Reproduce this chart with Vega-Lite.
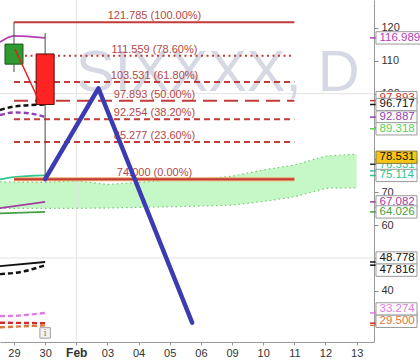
{
  "$schema": "https://vega.github.io/schema/vega-lite/v6.json",
  "width": 374,
  "height": 342,
  "autosize": {"type": "none"},
  "padding": {"left": 0, "top": 0, "right": 46, "bottom": 22},
  "background": "#ffffff",
  "config": {"view": {"stroke": null}, "font": "Liberation Sans"},
  "resolve": {"axis": {"x": "independent", "y": "independent"}},
  "datasets": {
    "grid": [{"g": 100}, {"g": 50}],
    "cloud": [
      {"i": -0.45, "top": 73.2, "bottom": 65.1},
      {"i": 1, "top": 73.0, "bottom": 65.1},
      {"i": 2, "top": 73.5, "bottom": 65.1},
      {"i": 3, "top": 72.4, "bottom": 65.2},
      {"i": 4, "top": 73.0, "bottom": 65.4},
      {"i": 5, "top": 73.7, "bottom": 65.6},
      {"i": 6, "top": 74.0, "bottom": 65.8},
      {"i": 7, "top": 74.9, "bottom": 66.1},
      {"i": 8, "top": 76.8, "bottom": 67.2},
      {"i": 9, "top": 78.3, "bottom": 68.6},
      {"i": 10, "top": 81.0, "bottom": 71.2},
      {"i": 11, "top": 81.6, "bottom": 71.35}
    ],
    "lines": [
      {"series": "upper", "i": -0.45, "v": 115.7},
      {"series": "upper", "i": 0, "v": 117.6},
      {"series": "upper", "i": 1, "v": 116.989},
      {"series": "close", "i": -0.45, "v": 95.0},
      {"series": "close", "i": 0, "v": 96.1},
      {"series": "close", "i": 1, "v": 96.717},
      {"series": "ema", "i": -0.45, "v": 93.5},
      {"series": "ema", "i": 0.03, "v": 94.3},
      {"series": "ema", "i": 0.51, "v": 94.0},
      {"series": "ema", "i": 1, "v": 92.887},
      {"series": "base", "i": -0.45, "v": 73.9},
      {"series": "base", "i": 0, "v": 74.6},
      {"series": "base", "i": 1, "v": 75.114},
      {"series": "lower", "i": -0.45, "v": 65.2},
      {"series": "lower", "i": 1, "v": 67.082},
      {"series": "sma50", "i": -0.45, "v": 63.6},
      {"series": "sma50", "i": 1, "v": 64.026},
      {"series": "sma100", "i": -0.45, "v": 47.5},
      {"series": "sma100", "i": 1, "v": 48.778},
      {"series": "sma100d", "i": -0.45, "v": 45.1},
      {"series": "sma100d", "i": 0.25, "v": 45.8},
      {"series": "sma100d", "i": 1, "v": 47.816},
      {"series": "pink", "i": -0.45, "v": 32.3},
      {"series": "pink", "i": 0, "v": 32.4},
      {"series": "pink", "i": 1, "v": 33.274},
      {"series": "red", "i": -0.45, "v": 30.3},
      {"series": "red", "i": 1, "v": 30.162},
      {"series": "orange", "i": -0.45, "v": 28.9},
      {"series": "orange", "i": 1, "v": 29.5}
    ],
    "fib": [
      {"level": 121.785, "pct": "100.00%", "label": "121.785 (100.00%)"},
      {"level": 111.559, "pct": "78.60%", "label": "111.559 (78.60%)"},
      {"level": 103.531, "pct": "61.80%", "label": "103.531 (61.80%)"},
      {"level": 97.893, "pct": "50.00%", "label": "97.893 (50.00%)"},
      {"level": 92.254, "pct": "38.20%", "label": "92.254 (38.20%)"},
      {"level": 85.277, "pct": "23.60%", "label": "85.277 (23.60%)"},
      {"level": 74.0, "pct": "0.00%", "label": "74.000 (0.00%)"}
    ],
    "candles": [
      {"i": 0, "open": 109.0, "high": 121.785, "low": 106.6, "close": 115.1},
      {"i": 1, "open": 112.1, "high": 118.5, "low": 74.0, "close": 96.717}
    ],
    "closeLine": [{"i": 0.03, "v": 113.6}, {"i": 0.84, "v": 97.1}],
    "pivot": [{"i": 1, "v": 74.0}, {"i": 2.71, "v": 101.65}, {"i": 5.72, "v": 30.3}],
    "tags": [
      {"series": "upper", "value": 116.989},
      {"series": "fib50", "value": 97.893},
      {"series": "close", "value": 96.717},
      {"series": "ema", "value": 92.887},
      {"series": "lime", "value": 89.318},
      {"series": "last", "value": 78.531},
      {"series": "spanB", "value": 76.531},
      {"series": "base", "value": 75.114},
      {"series": "lower", "value": 67.082},
      {"series": "sma50", "value": 64.026},
      {"series": "sma100", "value": 48.778},
      {"series": "sma100d", "value": 47.816},
      {"series": "pink", "value": 33.274},
      {"series": "red", "value": 30.162},
      {"series": "orange", "value": 29.5}
    ]
  },
  "layer": [
    {
      "data": {"name": "cloud"},
      "mark": {"type": "area", "color": "#c6f7c6", "opacity": 1},
      "encoding": {
        "x": {
          "field": "i", "type": "quantitative", "title": null,
          "scale": {"domain": [-0.449, 11.557], "nice": false, "zero": false, "padding": 0},
          "axis": {
            "orient": "bottom", "values": [0, 1, 2, 3, 4, 5, 6, 7, 8, 9, 10, 11],
            "labelExpr": "['29','30','Feb','03','04','05','06','09','10','11','12','13'][datum.value]",
            "grid": false, "tickSize": 3, "tickColor": "#999999", "domainColor": "#999999",
            "labelColor": "#333333", "labelPadding": 2, "labelFlush": false, "labelOverlap": false,
            "labelFontSize": {"condition": {"test": "datum.value == 2", "value": 12}, "value": 11},
            "labelFontWeight": {"condition": {"test": "datum.value == 2", "value": "bold"}, "value": "normal"}
          }
        },
        "y": {
          "field": "top", "type": "quantitative", "title": null,
          "scale": {"domain": [24.43, 128.52], "nice": false, "zero": false, "padding": 0},
          "axis": {
            "orient": "right", "values": [30, 40, 50, 60, 70, 80, 90, 100, 110, 120],
            "grid": false, "tickSize": 4, "tickColor": "#888888", "domainColor": "#999999",
            "labelColor": "#333333", "labelFontSize": 11, "labelPadding": 3, "labelFlush": false, "labelOverlap": false
          }
        },
        "y2": {"field": "bottom"}
      }
    },
    {
      "data": {"name": "grid"},
      "mark": {"type": "rule", "color": "#e3e3e3", "strokeWidth": 1},
      "encoding": {"y": {"field": "g", "type": "quantitative", "axis": null, "scale": {"domain": [24.43, 128.52], "nice": false, "zero": false, "padding": 0}}}
    },
    {
      "data": {"values": [{"d": 2}]},
      "mark": {"type": "rule", "color": "#e3e3e3", "strokeWidth": 1},
      "encoding": {"x": {"field": "d", "type": "quantitative", "axis": null, "scale": {"domain": [-0.449, 11.557], "nice": false, "zero": false, "padding": 0}}}
    },
    {
      "data": {"values": [{"t": "SIXXXX, D"}]},
      "mark": {"type": "text", "fontSize": 58, "color": "#d6d9e3", "align": "left", "baseline": "alphabetic"},
      "encoding": {
        "x": {"datum": 1.99, "type": "quantitative", "axis": null, "scale": {"domain": [-0.449, 11.557], "nice": false, "zero": false, "padding": 0}},
        "y": {"datum": 100.8, "type": "quantitative", "axis": null, "scale": {"domain": [24.43, 128.52], "nice": false, "zero": false, "padding": 0}},
        "text": {"field": "t"}
      }
    },
    {
      "data": {"name": "cloud"},
      "mark": {"type": "line", "color": "#74c874", "strokeWidth": 1.2, "strokeDash": [1.5, 3]},
      "encoding": {
        "x": {"field": "i", "type": "quantitative", "axis": null, "scale": {"domain": [-0.449, 11.557], "nice": false, "zero": false, "padding": 0}},
        "y": {"field": "top", "type": "quantitative", "axis": null, "scale": {"domain": [24.43, 128.52], "nice": false, "zero": false, "padding": 0}}
      }
    },
    {
      "data": {"name": "cloud"},
      "mark": {"type": "line", "color": "#74c874", "strokeWidth": 1.2, "strokeDash": [1.5, 3]},
      "encoding": {
        "x": {"field": "i", "type": "quantitative", "axis": null, "scale": {"domain": [-0.449, 11.557], "nice": false, "zero": false, "padding": 0}},
        "y": {"field": "bottom", "type": "quantitative", "axis": null, "scale": {"domain": [24.43, 128.52], "nice": false, "zero": false, "padding": 0}}
      }
    },
    {
      "data": {"name": "lines"},
      "transform": [{"filter": {"field": "series", "oneOf": ["upper", "base", "lower", "sma50", "sma100"]}}],
      "mark": {"type": "line", "strokeWidth": 1.8, "interpolate": "monotone"},
      "encoding": {
        "x": {"field": "i", "type": "quantitative", "axis": null, "scale": {"domain": [-0.449, 11.557], "nice": false, "zero": false, "padding": 0}},
        "y": {"field": "v", "type": "quantitative", "axis": null, "scale": {"domain": [24.43, 128.52], "nice": false, "zero": false, "padding": 0}},
        "color": {
          "field": "series", "type": "nominal", "legend": null,
          "scale": {
            "domain": ["upper", "fib50", "close", "ema", "lime", "last", "spanB", "base", "lower", "sma50", "sma100", "sma100d", "pink", "red", "orange"],
            "range": ["#b43cb4", "#c03535", "#111111", "#8e3fb8", "#58d058", "#333333", "#33c493", "#2ec48c", "#a23ea2", "#43a043", "#111111", "#111111", "#e27ae2", "#d42a2a", "#d9783c"]
          }
        }
      }
    },
    {
      "data": {"name": "lines"},
      "transform": [{"filter": {"field": "series", "oneOf": ["close", "ema", "sma100d", "pink", "red", "orange"]}}],
      "mark": {"type": "line", "strokeWidth": 2.4, "strokeDash": [5, 3], "interpolate": "monotone"},
      "encoding": {
        "x": {"field": "i", "type": "quantitative", "axis": null, "scale": {"domain": [-0.449, 11.557], "nice": false, "zero": false, "padding": 0}},
        "y": {"field": "v", "type": "quantitative", "axis": null, "scale": {"domain": [24.43, 128.52], "nice": false, "zero": false, "padding": 0}},
        "color": {"field": "series", "type": "nominal", "legend": null}
      }
    },
    {
      "data": {"name": "fib"},
      "transform": [{"filter": "datum.pct == '0.00%'"}],
      "mark": {"type": "rule", "color": "#efa868", "strokeWidth": 4},
      "encoding": {
        "x": {"datum": 0, "type": "quantitative", "axis": null, "scale": {"domain": [-0.449, 11.557], "nice": false, "zero": false, "padding": 0}},
        "x2": {"datum": 9},
        "y": {"field": "level", "type": "quantitative", "axis": null, "scale": {"domain": [24.43, 128.52], "nice": false, "zero": false, "padding": 0}}
      }
    },
    {
      "data": {"name": "fib"},
      "mark": {"type": "rule", "color": "#c23a3a", "strokeWidth": 2},
      "encoding": {
        "x": {"datum": 0, "type": "quantitative", "axis": null, "scale": {"domain": [-0.449, 11.557], "nice": false, "zero": false, "padding": 0}},
        "x2": {"datum": 9},
        "y": {"field": "level", "type": "quantitative", "axis": null, "scale": {"domain": [24.43, 128.52], "nice": false, "zero": false, "padding": 0}},
        "strokeDash": {
          "field": "pct", "type": "nominal", "legend": null,
          "scale": {
            "domain": ["100.00%", "78.60%", "61.80%", "50.00%", "38.20%", "23.60%", "0.00%"],
            "range": [[1, 0], [2, 3.5], [6, 4], [14, 7], [6, 4], [6, 4], [1, 0]]
          }
        }
      }
    },
    {
      "data": {"name": "fib"},
      "mark": {"type": "text", "fontSize": 11, "color": "#b44848", "align": "center", "baseline": "alphabetic", "dy": -3},
      "encoding": {
        "x": {"datum": 4.51, "type": "quantitative", "axis": null, "scale": {"domain": [-0.449, 11.557], "nice": false, "zero": false, "padding": 0}},
        "y": {"field": "level", "type": "quantitative", "axis": null, "scale": {"domain": [24.43, 128.52], "nice": false, "zero": false, "padding": 0}},
        "text": {"field": "label"}
      }
    },
    {
      "data": {"name": "candles"},
      "mark": {"type": "rule", "color": "#4a4a4a", "strokeWidth": 1},
      "encoding": {
        "x": {"field": "i", "type": "quantitative", "axis": null, "scale": {"domain": [-0.449, 11.557], "nice": false, "zero": false, "padding": 0}},
        "y": {"field": "low", "type": "quantitative", "axis": null, "scale": {"domain": [24.43, 128.52], "nice": false, "zero": false, "padding": 0}},
        "y2": {"field": "high"}
      }
    },
    {
      "data": {"name": "candles"},
      "mark": {"type": "bar", "orient": "vertical", "size": 18, "strokeWidth": 1},
      "encoding": {
        "x": {"field": "i", "type": "quantitative", "axis": null, "scale": {"domain": [-0.449, 11.557], "nice": false, "zero": false, "padding": 0}},
        "y": {"field": "open", "type": "quantitative", "axis": null, "scale": {"domain": [24.43, 128.52], "nice": false, "zero": false, "padding": 0}},
        "y2": {"field": "close"},
        "color": {"condition": {"test": "datum.close > datum.open", "value": "#2f9a2f"}, "value": "#ff2424"},
        "stroke": {"condition": {"test": "datum.close > datum.open", "value": "#1c561c"}, "value": "#5a0a0a"}
      }
    },
    {
      "data": {"name": "closeLine"},
      "mark": {"type": "line", "color": "#e02020", "strokeWidth": 1.5},
      "encoding": {
        "x": {"field": "i", "type": "quantitative", "axis": null, "scale": {"domain": [-0.449, 11.557], "nice": false, "zero": false, "padding": 0}},
        "y": {"field": "v", "type": "quantitative", "axis": null, "scale": {"domain": [24.43, 128.52], "nice": false, "zero": false, "padding": 0}}
      }
    },
    {
      "data": {"name": "pivot"},
      "mark": {"type": "line", "color": "#3b3bb2", "strokeWidth": 4.5, "strokeCap": "round", "strokeJoin": "round"},
      "encoding": {
        "x": {"field": "i", "type": "quantitative", "axis": null, "scale": {"domain": [-0.449, 11.557], "nice": false, "zero": false, "padding": 0}},
        "y": {"field": "v", "type": "quantitative", "axis": null, "scale": {"domain": [24.43, 128.52], "nice": false, "zero": false, "padding": 0}}
      }
    },
    {
      "data": {"values": [{"t": "i"}]},
      "mark": {"type": "point", "shape": "square", "size": 110, "filled": true, "fill": "#f2f2f2", "stroke": "#a0a0a0", "strokeWidth": 1, "opacity": 1},
      "encoding": {
        "x": {"datum": 1, "type": "quantitative", "axis": null, "scale": {"domain": [-0.449, 11.557], "nice": false, "zero": false, "padding": 0}},
        "y": {"datum": 27.2, "type": "quantitative", "axis": null, "scale": {"domain": [24.43, 128.52], "nice": false, "zero": false, "padding": 0}}
      }
    },
    {
      "data": {"values": [{"t": "i"}]},
      "mark": {"type": "text", "font": "Liberation Serif", "fontSize": 10, "color": "#777777", "align": "center", "baseline": "middle"},
      "encoding": {
        "x": {"datum": 1, "type": "quantitative", "axis": null, "scale": {"domain": [-0.449, 11.557], "nice": false, "zero": false, "padding": 0}},
        "y": {"datum": 27.2, "type": "quantitative", "axis": null, "scale": {"domain": [24.43, 128.52], "nice": false, "zero": false, "padding": 0}},
        "text": {"field": "t"}
      }
    },
    {
      "data": {"name": "tags"},
      "mark": {"type": "rule", "strokeWidth": 1.5},
      "encoding": {
        "x": {"datum": 11.43, "type": "quantitative", "axis": null, "scale": {"domain": [-0.449, 11.557], "nice": false, "zero": false, "padding": 0}},
        "x2": {"datum": 11.62},
        "y": {"field": "value", "type": "quantitative", "axis": null, "scale": {"domain": [24.43, 128.52], "nice": false, "zero": false, "padding": 0}},
        "color": {"field": "series", "type": "nominal", "legend": null}
      }
    },
    {
      "data": {"name": "tags"},
      "transform": [{"filter": {"field": "series", "oneOf": ["fib50"]}}],
      "mark": {"type": "point", "size": 1681, "filled": true, "fill": "#ffffff", "stroke": "#9a9a9a", "strokeWidth": 1, "opacity": 1, "yOffset": -3},
      "encoding": {
        "x": {"datum": 11.621, "type": "quantitative", "axis": null, "scale": {"domain": [-0.449, 11.557], "nice": false, "zero": false, "padding": 0}},
        "y": {"field": "value", "type": "quantitative", "axis": null, "scale": {"domain": [24.43, 128.52], "nice": false, "zero": false, "padding": 0}},
        "shape": {"value": "M0,-0.3H2V0.3H0Z"}
      }
    },
    {
      "data": {"name": "tags"},
      "transform": [{"filter": {"field": "series", "oneOf": ["fib50"]}}],
      "mark": {"type": "text", "fontSize": 11.5, "align": "left", "baseline": "middle", "yOffset": -3},
      "encoding": {
        "x": {"datum": 11.734, "type": "quantitative", "axis": null, "scale": {"domain": [-0.449, 11.557], "nice": false, "zero": false, "padding": 0}},
        "y": {"field": "value", "type": "quantitative", "axis": null, "scale": {"domain": [24.43, 128.52], "nice": false, "zero": false, "padding": 0}},
        "text": {"field": "value", "format": ".3f"},
        "color": {"field": "series", "type": "nominal", "legend": null}
      }
    },
    {
      "data": {"name": "tags"},
      "transform": [{"filter": {"field": "series", "oneOf": ["spanB", "red"]}}],
      "mark": {"type": "point", "size": 1681, "filled": true, "fill": "#ffffff", "stroke": "#9a9a9a", "strokeWidth": 1, "opacity": 1, "yOffset": -6},
      "encoding": {
        "x": {"datum": 11.621, "type": "quantitative", "axis": null, "scale": {"domain": [-0.449, 11.557], "nice": false, "zero": false, "padding": 0}},
        "y": {"field": "value", "type": "quantitative", "axis": null, "scale": {"domain": [24.43, 128.52], "nice": false, "zero": false, "padding": 0}},
        "shape": {"value": "M0,-0.3H2V0.3H0Z"}
      }
    },
    {
      "data": {"name": "tags"},
      "transform": [{"filter": {"field": "series", "oneOf": ["spanB", "red"]}}],
      "mark": {"type": "text", "fontSize": 11.5, "align": "left", "baseline": "middle", "yOffset": -6},
      "encoding": {
        "x": {"datum": 11.734, "type": "quantitative", "axis": null, "scale": {"domain": [-0.449, 11.557], "nice": false, "zero": false, "padding": 0}},
        "y": {"field": "value", "type": "quantitative", "axis": null, "scale": {"domain": [24.43, 128.52], "nice": false, "zero": false, "padding": 0}},
        "text": {"field": "value", "format": ".3f"},
        "color": {"field": "series", "type": "nominal", "legend": null}
      }
    },
    {
      "data": {"name": "tags"},
      "transform": [{"filter": {"field": "series", "oneOf": ["upper", "close", "ema", "lime", "base", "lower", "sma50"]}}],
      "mark": {"type": "point", "size": 1681, "filled": true, "fill": "#ffffff", "stroke": "#9a9a9a", "strokeWidth": 1, "opacity": 1},
      "encoding": {
        "x": {"datum": 11.621, "type": "quantitative", "axis": null, "scale": {"domain": [-0.449, 11.557], "nice": false, "zero": false, "padding": 0}},
        "y": {"field": "value", "type": "quantitative", "axis": null, "scale": {"domain": [24.43, 128.52], "nice": false, "zero": false, "padding": 0}},
        "shape": {"condition": {"test": "datum.value >= 100", "value": "M0,-0.3H2.6V0.3H0Z"}, "value": "M0,-0.3H2V0.3H0Z"}
      }
    },
    {
      "data": {"name": "tags"},
      "transform": [{"filter": {"field": "series", "oneOf": ["upper", "close", "ema", "lime", "base", "lower", "sma50"]}}],
      "mark": {"type": "text", "fontSize": 11.5, "align": "left", "baseline": "middle"},
      "encoding": {
        "x": {"datum": 11.734, "type": "quantitative", "axis": null, "scale": {"domain": [-0.449, 11.557], "nice": false, "zero": false, "padding": 0}},
        "y": {"field": "value", "type": "quantitative", "axis": null, "scale": {"domain": [24.43, 128.52], "nice": false, "zero": false, "padding": 0}},
        "text": {"field": "value", "format": ".3f"},
        "color": {"field": "series", "type": "nominal", "legend": null}
      }
    },
    {
      "data": {"name": "tags"},
      "transform": [{"filter": {"field": "series", "oneOf": ["sma100", "pink", "orange"]}}],
      "mark": {"type": "point", "size": 1681, "filled": true, "fill": "#ffffff", "stroke": "#9a9a9a", "strokeWidth": 1, "opacity": 1, "yOffset": -4},
      "encoding": {
        "x": {"datum": 11.621, "type": "quantitative", "axis": null, "scale": {"domain": [-0.449, 11.557], "nice": false, "zero": false, "padding": 0}},
        "y": {"field": "value", "type": "quantitative", "axis": null, "scale": {"domain": [24.43, 128.52], "nice": false, "zero": false, "padding": 0}},
        "shape": {"value": "M0,-0.3H2V0.3H0Z"}
      }
    },
    {
      "data": {"name": "tags"},
      "transform": [{"filter": {"field": "series", "oneOf": ["sma100", "pink", "orange"]}}],
      "mark": {"type": "text", "fontSize": 11.5, "align": "left", "baseline": "middle", "yOffset": -4},
      "encoding": {
        "x": {"datum": 11.734, "type": "quantitative", "axis": null, "scale": {"domain": [-0.449, 11.557], "nice": false, "zero": false, "padding": 0}},
        "y": {"field": "value", "type": "quantitative", "axis": null, "scale": {"domain": [24.43, 128.52], "nice": false, "zero": false, "padding": 0}},
        "text": {"field": "value", "format": ".3f"},
        "color": {"field": "series", "type": "nominal", "legend": null}
      }
    },
    {
      "data": {"name": "tags"},
      "transform": [{"filter": {"field": "series", "oneOf": ["sma100d"]}}],
      "mark": {"type": "point", "size": 1681, "filled": true, "fill": "#ffffff", "stroke": "#9a9a9a", "strokeWidth": 1, "opacity": 1, "yOffset": 5},
      "encoding": {
        "x": {"datum": 11.621, "type": "quantitative", "axis": null, "scale": {"domain": [-0.449, 11.557], "nice": false, "zero": false, "padding": 0}},
        "y": {"field": "value", "type": "quantitative", "axis": null, "scale": {"domain": [24.43, 128.52], "nice": false, "zero": false, "padding": 0}},
        "shape": {"value": "M0,-0.3H2V0.3H0Z"}
      }
    },
    {
      "data": {"name": "tags"},
      "transform": [{"filter": {"field": "series", "oneOf": ["sma100d"]}}],
      "mark": {"type": "text", "fontSize": 11.5, "align": "left", "baseline": "middle", "yOffset": 5},
      "encoding": {
        "x": {"datum": 11.734, "type": "quantitative", "axis": null, "scale": {"domain": [-0.449, 11.557], "nice": false, "zero": false, "padding": 0}},
        "y": {"field": "value", "type": "quantitative", "axis": null, "scale": {"domain": [24.43, 128.52], "nice": false, "zero": false, "padding": 0}},
        "text": {"field": "value", "format": ".3f"},
        "color": {"field": "series", "type": "nominal", "legend": null}
      }
    },
    {
      "data": {"name": "tags"},
      "transform": [{"filter": {"field": "series", "oneOf": ["last"]}}],
      "mark": {"type": "point", "size": 1681, "filled": true, "fill": "#f7c614", "stroke": "#8a7a40", "strokeWidth": 1, "opacity": 1, "yOffset": -7},
      "encoding": {
        "x": {"datum": 11.621, "type": "quantitative", "axis": null, "scale": {"domain": [-0.449, 11.557], "nice": false, "zero": false, "padding": 0}},
        "y": {"field": "value", "type": "quantitative", "axis": null, "scale": {"domain": [24.43, 128.52], "nice": false, "zero": false, "padding": 0}},
        "shape": {"value": "M0,-0.3H2V0.3H0Z"}
      }
    },
    {
      "data": {"name": "tags"},
      "transform": [{"filter": {"field": "series", "oneOf": ["last"]}}],
      "mark": {"type": "text", "fontSize": 11.5, "align": "left", "baseline": "middle", "yOffset": -7, "color": "#111111"},
      "encoding": {
        "x": {"datum": 11.734, "type": "quantitative", "axis": null, "scale": {"domain": [-0.449, 11.557], "nice": false, "zero": false, "padding": 0}},
        "y": {"field": "value", "type": "quantitative", "axis": null, "scale": {"domain": [24.43, 128.52], "nice": false, "zero": false, "padding": 0}},
        "text": {"field": "value", "format": ".3f"}
      }
    }
  ]
}
